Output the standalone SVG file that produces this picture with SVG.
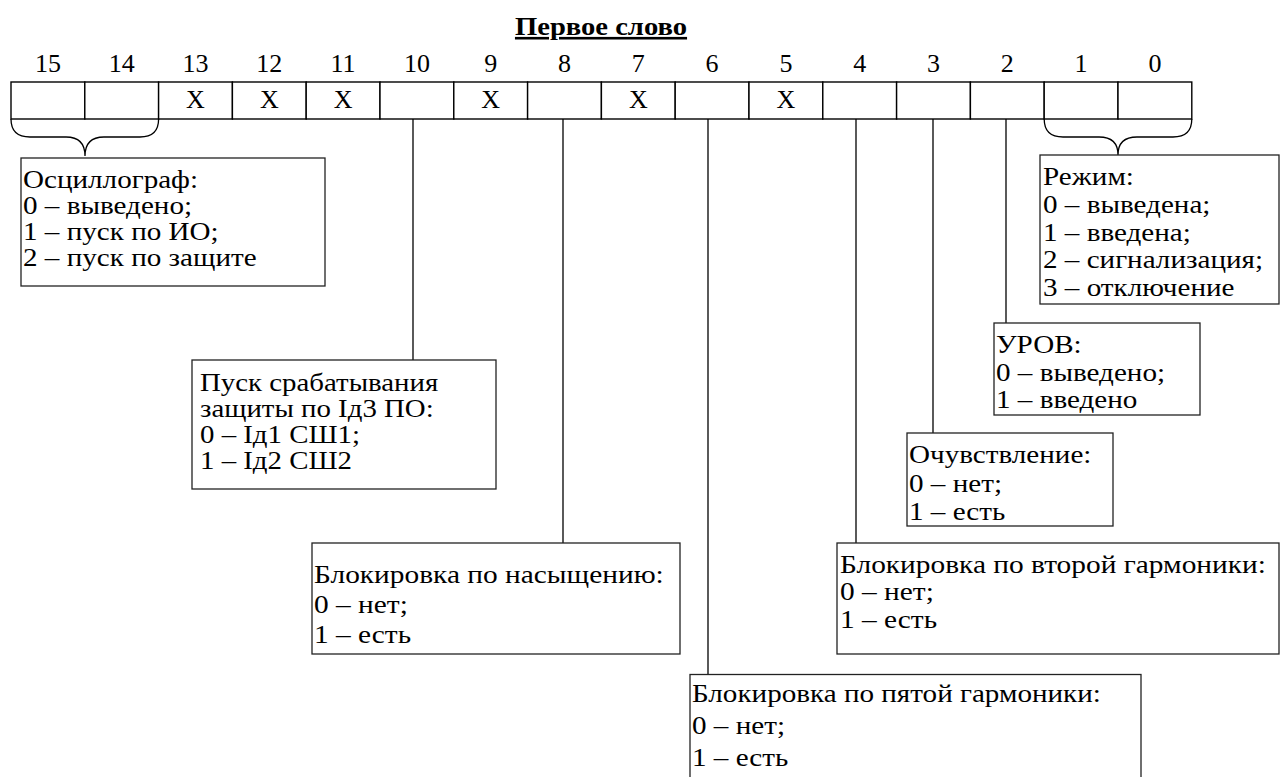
<svg xmlns="http://www.w3.org/2000/svg" width="1280" height="777" viewBox="0 0 1280 777">
<style>
text{font-family:"Liberation Serif","Times New Roman",serif;font-size:26px;fill:#000}
.t{font-weight:bold;text-decoration:underline}
.n{text-anchor:middle}
.cell{fill:#fff;stroke:#000;stroke-width:1.4}
.box{fill:#fff;stroke:#222;stroke-width:1.3}
.ln{stroke:#000;stroke-width:1.3;fill:none}
</style>
<rect width="1280" height="777" fill="#fff"/>
<text class="t n" transform="translate(601,35) scale(1.1,1)" x="0" y="0">Первое слово</text>
<g id="register">
<g class="n">
<text x="47.9" y="72">15</text><text x="121.7" y="72">14</text><text x="195.5" y="72">13</text><text x="269.3" y="72">12</text>
<text x="343.1" y="72">11</text><text x="416.9" y="72">10</text><text x="490.7" y="72">9</text><text x="564.5" y="72">8</text>
<text x="638.3" y="72">7</text><text x="712.1" y="72">6</text><text x="785.9" y="72">5</text><text x="859.7" y="72">4</text>
<text x="933.5" y="72">3</text><text x="1007.3" y="72">2</text><text x="1081.1" y="72">1</text><text x="1154.9" y="72">0</text>
</g>
<rect class="cell" x="11" y="82" width="73.8" height="37"/><rect class="cell" x="84.8" y="82" width="73.8" height="37"/>
<rect class="cell" x="158.6" y="82" width="73.8" height="37"/><rect class="cell" x="232.4" y="82" width="73.8" height="37"/>
<rect class="cell" x="306.2" y="82" width="73.8" height="37"/><rect class="cell" x="380" y="82" width="73.8" height="37"/>
<rect class="cell" x="453.8" y="82" width="73.8" height="37"/><rect class="cell" x="527.6" y="82" width="73.8" height="37"/>
<rect class="cell" x="601.4" y="82" width="73.8" height="37"/><rect class="cell" x="675.2" y="82" width="73.8" height="37"/>
<rect class="cell" x="749" y="82" width="73.8" height="37"/><rect class="cell" x="822.8" y="82" width="73.8" height="37"/>
<rect class="cell" x="896.6" y="82" width="73.8" height="37"/><rect class="cell" x="970.4" y="82" width="73.8" height="37"/>
<rect class="cell" x="1044.2" y="82" width="73.8" height="37"/><rect class="cell" x="1118" y="82" width="73.8" height="37"/>
<g class="n">
<text x="195.5" y="108">X</text><text x="269.3" y="108">X</text><text x="343.1" y="108">X</text>
<text x="490.7" y="108">X</text><text x="638.3" y="108">X</text><text x="785.9" y="108">X</text>
</g>
</g>
<g id="connectors">
<path class="ln" d="M11 119 Q11 137 30 137 L66 137 Q85 137 85 156 Q85 137 104 137 L140 137 Q158.6 137 158.6 119"/>
<path class="ln" d="M1044.2 119 Q1044.2 137 1063 137 L1099 137 Q1118 137 1118 155 Q1118 137 1137 137 L1173 137 Q1191.8 137 1191.8 119"/>
<line class="ln" x1="413" y1="119" x2="413" y2="360"/>
<line class="ln" x1="563" y1="119" x2="563" y2="543"/>
<line class="ln" x1="708" y1="119" x2="708" y2="674.5"/>
<line class="ln" x1="856" y1="119" x2="856" y2="543"/>
<line class="ln" x1="933" y1="119" x2="933" y2="433"/>
<line class="ln" x1="1006" y1="119" x2="1006" y2="323"/>
</g>
<g id="osc">
<rect class="box" x="21" y="158" width="304" height="128"/>
<g transform="translate(23,0) scale(1.12,1)">
<text x="0" y="188">Осциллограф:</text>
<text x="0" y="214">0 – выведено;</text>
<text x="0" y="240">1 – пуск по ИО;</text>
<text x="0" y="266">2 – пуск по защите</text>
</g>
</g>
<g id="mode">
<rect class="box" x="1040" y="155" width="239" height="149"/>
<g transform="translate(1043,0) scale(1.12,1)">
<text x="0" y="185">Режим:</text>
<text x="0" y="213">0 – выведена;</text>
<text x="0" y="241">1 – введена;</text>
<text x="0" y="268">2 – сигнализация;</text>
<text x="0" y="296">3 – отключение</text>
</g>
</g>
<g id="urov">
<rect class="box" x="994" y="323" width="206" height="92"/>
<g transform="translate(996,0) scale(1.12,1)">
<text x="0" y="353">УРОВ:</text>
<text x="0" y="381">0 – выведено;</text>
<text x="0" y="408">1 – введено</text>
</g>
</g>
<g id="start">
<rect class="box" x="192" y="360" width="304" height="129"/>
<g transform="translate(200,0) scale(1.11,1)">
<text x="0" y="391">Пуск срабатывания</text>
<text x="0" y="417">защиты по Iд3 ПО:</text>
<text x="0" y="443">0 – Iд1 СШ1;</text>
<text x="0" y="469">1 – Iд2 СШ2</text>
</g>
</g>
<g id="sens">
<rect class="box" x="907" y="433" width="206" height="93"/>
<g transform="translate(909,0) scale(1.12,1)">
<text x="0" y="463">Очувствление:</text>
<text x="0" y="492">0 – нет;</text>
<text x="0" y="520">1 – есть</text>
</g>
</g>
<g id="sat">
<rect class="box" x="312" y="543" width="368" height="111"/>
<g transform="translate(314,0) scale(1.13,1)">
<text x="0" y="583">Блокировка по насыщению:</text>
<text x="0" y="613">0 – нет;</text>
<text x="0" y="643">1 – есть</text>
</g>
</g>
<g id="h2">
<rect class="box" x="837" y="543" width="442" height="111"/>
<g transform="translate(840,0) scale(1.13,1)">
<text x="0" y="573">Блокировка по второй гармоники:</text>
<text x="0" y="600">0 – нет;</text>
<text x="0" y="628">1 – есть</text>
</g>
</g>
<g id="h5">
<rect class="box" x="690" y="674.5" width="451" height="130"/>
<g transform="translate(692,0) scale(1.12,1)">
<text x="0" y="702">Блокировка по пятой гармоники:</text>
<text x="0" y="734">0 – нет;</text>
<text x="0" y="766">1 – есть</text>
</g>
</g>
</svg>
